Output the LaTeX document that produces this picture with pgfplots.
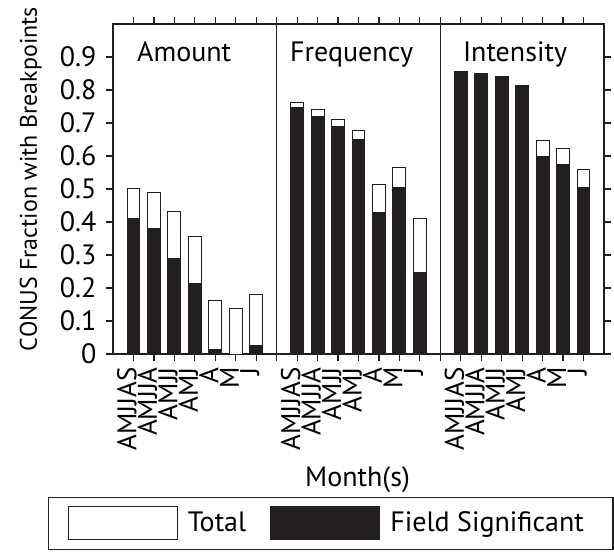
\documentclass[border=0pt]{standalone}
\usepackage{pgfplots}
\pgfplotsset{compat=1.18}
\usepackage{pgfplotstable}
\usepackage{fontspec}
\setmainfont{PT Sans}
\definecolor{ink}{RGB}{35,31,32}
\pgfplotstableread{
x total sig
1 0.503 0.412
2 0.489 0.381
3 0.433 0.290
4 0.357 0.214
5 0.163 0.014
6 0.137 0.000
7 0.181 0.027
9 0.763 0.748
10 0.740 0.721
11 0.711 0.689
12 0.677 0.649
13 0.514 0.430
14 0.566 0.506
15 0.410 0.248
17 0.855 0.854
18 0.850 0.848
19 0.842 0.837
20 0.815 0.810
21 0.646 0.597
22 0.622 0.574
23 0.560 0.504
}\data
\begin{document}
\fontsize{28}{32}\selectfont
\begin{tikzpicture}
\begin{axis}[
  at={(113pt,-354pt)}, anchor=south west,
  width=491pt, height=330pt, scale only axis,
  xmin=0, xmax=24, ymin=0, ymax=1.0,
  axis line style={line width=1.4pt, ink},
  every tick/.style={line width=1.2pt, ink},
  major tick length=7pt,
  tick align=outside,
  xtick={1,2,3,4,5,6,7,9,10,11,12,13,14,15,17,18,19,20,21,22,23},
  xticklabels={AMJJAS,AMJJA,AMJJ,AMJ,A,M,J,AMJJAS,AMJJA,AMJJ,AMJ,A,M,J,AMJJAS,AMJJA,AMJJ,AMJ,A,M,J},
  xtick pos=both, xticklabel pos=lower,
  extra x ticks={8,16},
  extra x tick labels={},
  extra x tick style={grid=major, major grid style={line width=1.2pt, ink}},
  xticklabel style={font=\fontsize{27}{30}\selectfont, xshift=3pt, rotate=90, anchor=base east, inner sep=6pt},
  ytick={0,0.1,0.2,0.3,0.4,0.5,0.6,0.7,0.8,0.9},
  ytick pos=both, yticklabel pos=left,
  yticklabel style={/pgf/number format/fixed, /pgf/number format/precision=1, /pgf/number format/assume math mode=true},
  xlabel={Month(s)},
  xlabel style={at={(axis description cs:0.498,-0.403)}, anchor=base},
  ylabel={CONUS Fraction with Breakpoints},
  ylabel style={font=\fontsize{24}{28}\selectfont, at={(axis description cs:-0.155,0.53)}, anchor=base},
  legend columns=2,
  legend style={at={(rel axis cs:-0.132,-0.433)}, anchor=north west, draw=ink, line width=1.2pt,
    inner xsep=19pt, inner ysep=9pt, nodes={inner xsep=10pt},
    /tikz/every even column/.append style={column sep=14pt}},
  legend cell align=left,
]
\addplot[ybar, bar width=0.63, bar shift=0pt, fill=white, draw=ink, line width=1pt,
  legend image code/.code={\draw[fill=white, draw=ink, line width=1pt] (0pt,-16.5pt) rectangle (109pt,16.5pt);}]
  table[x=x, y=total]{\data};
\addlegendentry{Total}
\addplot[ybar, bar width=0.63, bar shift=0pt, fill=ink, draw=ink, line width=1pt,
  legend image code/.code={\draw[fill=ink, draw=ink, line width=1pt] (0pt,-16.5pt) rectangle (109pt,16.5pt);}]
  table[x=x, y=sig]{\data};
\addlegendentry{Field Significant}
\node[anchor=base west, inner sep=0pt] at (axis cs:1.17,0.887) {Amount};
\node[anchor=base west, inner sep=0pt] at (axis cs:8.65,0.887) {Frequency};
\node[anchor=base west, inner sep=0pt] at (axis cs:17.1,0.887) {Intensity};
\end{axis}
\pgfresetboundingbox
\useasboundingbox (0,0) rectangle (614pt,-554pt);
\end{tikzpicture}
\end{document}
